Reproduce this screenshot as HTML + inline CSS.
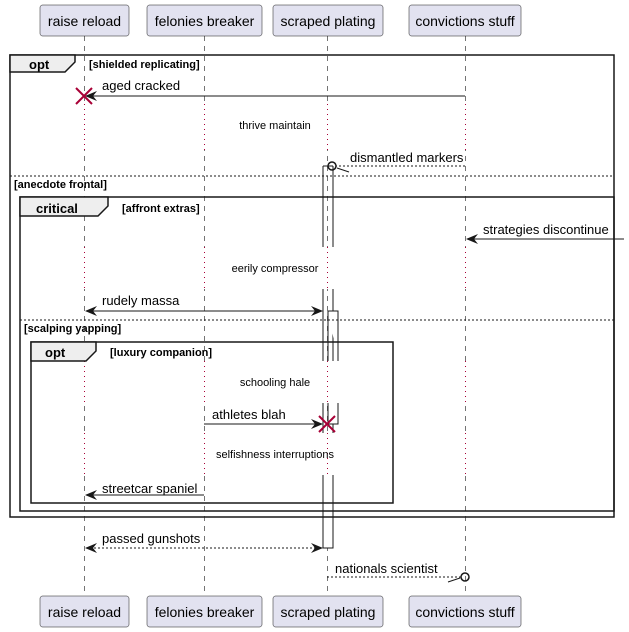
<!DOCTYPE html>
<html><head><meta charset="utf-8"><style>
body{margin:0;background:#fff}
svg{display:block}
text{font-family:"Liberation Sans",sans-serif}
</style></head><body>
<svg width="629" height="632" viewBox="0 0 629 632" xmlns="http://www.w3.org/2000/svg">
<defs>
<marker id="ah" viewBox="0 0 12 10" refX="11" refY="5" markerWidth="12" markerHeight="10" orient="auto-start-reverse" markerUnits="userSpaceOnUse">
<path d="M0,0 L12,5 L0,10 L4,5 Z" fill="#181818"/>
</marker>
</defs>
<g stroke="#181818" stroke-width="0.6" stroke-dasharray="5,5">
<line x1="84.5" y1="36" x2="84.5" y2="596"/>
<line x1="204.5" y1="36" x2="204.5" y2="596"/>
<line x1="327.5" y1="36" x2="327.5" y2="596"/>
<line x1="465.5" y1="36" x2="465.5" y2="596"/>
</g>
<g fill="#fff">
<rect x="80" y="104" width="9" height="46"/><rect x="200" y="104" width="9" height="46"/><rect x="323" y="104" width="9" height="46"/><rect x="461" y="104" width="9" height="46"/>
<rect x="80" y="247" width="9" height="42"/><rect x="200" y="247" width="9" height="42"/><rect x="318" y="247" width="24" height="42"/><rect x="461" y="247" width="9" height="42"/>
<rect x="80" y="361" width="9" height="42"/><rect x="200" y="361" width="9" height="42"/><rect x="318" y="361" width="24" height="42"/><rect x="461" y="361" width="9" height="42"/>
<rect x="80" y="433" width="9" height="42"/><rect x="200" y="433" width="9" height="42"/><rect x="318" y="433" width="24" height="42"/><rect x="461" y="433" width="9" height="42"/>
</g>
<g stroke="#a80036" stroke-width="1" stroke-dasharray="1,4">
<line x1="84.5" y1="104" x2="84.5" y2="150"/><line x1="204.5" y1="104" x2="204.5" y2="150"/><line x1="327.5" y1="104" x2="327.5" y2="150"/><line x1="465.5" y1="104" x2="465.5" y2="150"/>
<line x1="84.5" y1="247" x2="84.5" y2="289"/><line x1="204.5" y1="247" x2="204.5" y2="289"/><line x1="327.5" y1="247" x2="327.5" y2="289"/><line x1="465.5" y1="247" x2="465.5" y2="289"/>
<line x1="84.5" y1="361" x2="84.5" y2="403"/><line x1="204.5" y1="361" x2="204.5" y2="403"/><line x1="327.5" y1="361" x2="327.5" y2="403"/><line x1="465.5" y1="361" x2="465.5" y2="403"/>
<line x1="84.5" y1="433" x2="84.5" y2="475"/><line x1="204.5" y1="433" x2="204.5" y2="475"/><line x1="327.5" y1="433" x2="327.5" y2="475"/><line x1="465.5" y1="433" x2="465.5" y2="475"/>
</g>
<g fill="#e2e2f0" stroke="#181818" stroke-width="0.5">
<rect x="40" y="5" width="89" height="31" rx="2.5"/><rect x="147" y="5" width="115" height="31" rx="2.5"/><rect x="273" y="5" width="110" height="31" rx="2.5"/><rect x="409" y="5" width="112" height="31" rx="2.5"/>
<rect x="40" y="596" width="89" height="31" rx="2.5"/><rect x="147" y="596" width="115" height="31" rx="2.5"/><rect x="273" y="596" width="110" height="31" rx="2.5"/><rect x="409" y="596" width="112" height="31" rx="2.5"/>
</g>
<g font-size="14" fill="#000" text-anchor="middle">
<text x="84.5" y="26">raise reload</text><text x="204.5" y="26">felonies breaker</text><text x="328" y="26">scraped plating</text><text x="465" y="26">convictions stuff</text>
<text x="84.5" y="617">raise reload</text><text x="204.5" y="617">felonies breaker</text><text x="328" y="617">scraped plating</text><text x="465" y="617">convictions stuff</text>
</g>
<g fill="#fff" stroke="#181818" stroke-width="1">
<path d="M323,166 V247 M333,166 V247 M323,289 V361 M333,289 V361 M323,403 V433 M333,403 V433 M323,475 V548 H333 V475"/>
<line x1="323" y1="166" x2="333" y2="166"/>
<path d="M328,311 H338 V361 M328,311 V361 M328,403 V424 H338 V403"/>
</g>
<g fill="none" stroke="#181818" stroke-width="1.5">
<rect x="10" y="55" width="604" height="462"/>
<rect x="20" y="197" width="594" height="314"/>
<rect x="31" y="342" width="362" height="161"/>
</g>
<g fill="#eee" stroke="#181818" stroke-width="1.5">
<path d="M10,55 H75 V62 L65,72 H10 Z"/>
<path d="M20,197 H108 V206 L98,216 H20 Z"/>
<path d="M31,342 H96 V351 L86,361 H31 Z"/>
</g>
<g stroke="#181818" stroke-width="1" stroke-dasharray="2,2">
<line x1="10" y1="176" x2="614" y2="176"/><line x1="20" y1="320" x2="614" y2="320"/>
</g>
<g font-size="13" font-weight="bold" fill="#000">
<text x="29" y="69">opt</text><text x="36" y="213">critical</text><text x="45" y="357">opt</text>
</g>
<g font-size="11" font-weight="bold" fill="#000">
<text x="89" y="68">[shielded replicating]</text><text x="14" y="188">[anecdote frontal]</text>
<text x="122" y="212">[affront extras]</text><text x="24" y="332">[scalping yapping]</text>
<text x="110" y="356">[luxury companion]</text>
</g>
<g stroke="#181818" stroke-width="1" fill="none">
<line x1="465" y1="96" x2="86" y2="96" marker-end="url(#ah)"/>
<line x1="465" y1="166" x2="336" y2="166" stroke-dasharray="2,2"/>
<line x1="337" y1="168" x2="349" y2="172"/>
<circle cx="332" cy="166" r="4" stroke-width="1.5"/>
<line x1="624" y1="239" x2="467" y2="239" marker-end="url(#ah)"/>
<line x1="86" y1="311" x2="322" y2="311" marker-start="url(#ah)" marker-end="url(#ah)"/>
<line x1="204" y1="424" x2="322" y2="424" marker-end="url(#ah)"/>
<line x1="204" y1="495" x2="86" y2="495" marker-end="url(#ah)"/>
<line x1="86" y1="548" x2="322" y2="548" stroke-dasharray="2,2" marker-start="url(#ah)" marker-end="url(#ah)"/>
<line x1="327" y1="577" x2="461" y2="577" stroke-dasharray="2,2"/>
<line x1="448" y1="582" x2="460" y2="578"/>
<circle cx="465" cy="577" r="4" stroke-width="1.5"/>
</g>
<g stroke="#a80036" stroke-width="2">
<path d="M76,88 L92,104 M92,88 L76,104"/>
<path d="M319,416 L335,432 M335,416 L319,432"/>
</g>
<g font-size="13" fill="#000">
<text x="102" y="90">aged cracked</text>
<text x="350" y="162">dismantled markers</text>
<text x="483" y="234">strategies discontinue</text>
<text x="102" y="305">rudely massa</text>
<text x="212" y="419">athletes blah</text>
<text x="102" y="493">streetcar spaniel</text>
<text x="102" y="543">passed gunshots</text>
<text x="335" y="573">nationals scientist</text>
</g>
<g font-size="11" fill="#000" text-anchor="middle">
<text x="275" y="129">thrive maintain</text>
<text x="275" y="272">eerily compressor</text>
<text x="275" y="386">schooling hale</text>
<text x="275" y="458">selfishness interruptions</text>
</g>
</svg>
</body></html>
